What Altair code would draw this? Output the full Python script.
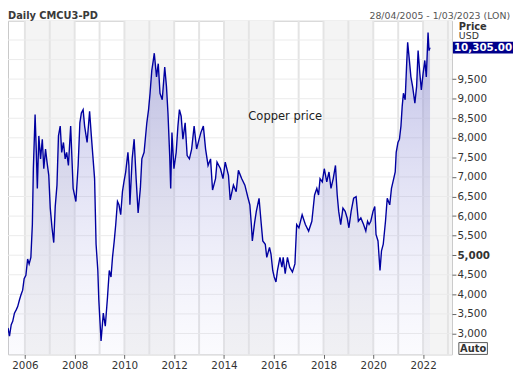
import altair as alt
import pandas as pd

# ---- data (decimal year, USD/t) ----
years_a = [2005.32, 2005.38, 2005.45, 2005.51, 2005.58, 2005.65, 2005.71, 2005.78, 2005.84, 2005.91,
           2005.97, 2006.04, 2006.11, 2006.17, 2006.24, 2006.30, 2006.34, 2006.41, 2006.46, 2006.50,
           2006.56, 2006.63, 2006.70, 2006.76, 2006.83, 2006.89, 2006.96, 2007.02, 2007.09, 2007.16,
           2007.22, 2007.29, 2007.35, 2007.42, 2007.48, 2007.55, 2007.62, 2007.68, 2007.75, 2007.84,
           2007.94, 2008.05, 2008.14, 2008.21, 2008.27, 2008.34, 2008.40, 2008.50, 2008.60, 2008.67,
           2008.73, 2008.80, 2008.86, 2008.93, 2008.97, 2009.02, 2009.06]
price_a = [3143, 2933, 3227, 3310, 3520, 3604, 3688, 3856, 3981, 4107,
           4401, 4485, 4904, 4778, 4946, 5784, 7210, 8594, 7629, 6707,
           8049, 7462, 7965, 7210, 7713, 7378, 7042, 6204, 5701, 5323,
           6246, 6791, 8049, 8300, 7629, 7881, 7462, 7629, 7294, 8300,
           6707, 6371, 7294, 8384, 8636, 8720, 8300, 7881, 8678, 8049,
           7545, 6958, 5281, 4610, 3856, 3269, 2807]

years_b = [2009.15, 2009.23, 2009.32, 2009.39, 2009.46, 2009.52, 2009.59, 2009.65, 2009.72, 2009.78,
           2009.85, 2009.92, 2009.98, 2010.05, 2010.14, 2010.18, 2010.22, 2010.31, 2010.39, 2010.47,
           2010.55, 2010.64, 2010.70, 2010.79, 2010.90, 2010.97, 2011.03, 2011.10, 2011.16, 2011.20,
           2011.29, 2011.36, 2011.43, 2011.52, 2011.62, 2011.69, 2011.75, 2011.82, 2011.86, 2011.91,
           2011.99, 2012.08, 2012.15, 2012.21, 2012.28, 2012.35, 2012.44, 2012.52, 2012.61, 2012.70,
           2012.80, 2012.90, 2013.00]
price_b = [3520, 3185, 3939, 4610, 4443, 4946, 5365, 5784, 6371, 6288,
           6036, 6623, 6874, 7126, 7629, 7294, 6288, 7462, 7965, 6958,
           6078, 6707, 7462, 7629, 8384, 8720, 9139, 9726, 9977, 10162,
           9558, 9894, 9139, 8971, 9810, 9307, 8636, 7545, 6707, 8133,
           7210, 7629, 8300, 8720, 8552, 7965, 8384, 7545, 7462, 7713,
           8300, 7713, 7965]

years_c = [2013.07, 2013.17, 2013.26, 2013.36, 2013.46, 2013.54, 2013.66, 2013.72, 2013.86, 2013.96,
           2014.05, 2014.18, 2014.25, 2014.38, 2014.49, 2014.58, 2014.71, 2014.84, 2014.97, 2015.04,
           2015.10, 2015.14, 2015.23, 2015.30, 2015.41, 2015.50, 2015.56, 2015.66, 2015.72, 2015.83,
           2015.89, 2015.96, 2016.02, 2016.09, 2016.15, 2016.25, 2016.33, 2016.38, 2016.46, 2016.55,
           2016.64, 2016.75, 2016.85, 2016.92, 2017.01, 2017.14, 2017.27, 2017.40, 2017.53, 2017.64]
price_c = [8133, 8300, 7713, 7294, 7462, 6665, 6958, 7378, 7210, 6958,
           7378, 7042, 6413, 6791, 6623, 7168, 6958, 6791, 6455, 6288,
           5784, 5365, 5826, 6120, 6455, 5784, 5365, 5281, 4946, 5197,
           5030, 4610, 4443, 4317, 4610, 4946, 4694, 4946, 4527, 4946,
           4694, 4568, 4778, 5784, 5701, 6036, 5784, 5617, 5868, 6539]

years_d = [2017.73, 2017.80, 2017.86, 2017.95, 2018.03, 2018.13, 2018.22, 2018.30, 2018.39, 2018.48,
           2018.55, 2018.61, 2018.69, 2018.78, 2018.87, 2018.95, 2019.02, 2019.11, 2019.21, 2019.31,
           2019.40, 2019.50, 2019.61, 2019.70, 2019.77, 2019.83, 2019.90, 2019.99, 2020.06, 2020.11,
           2020.19, 2020.27, 2020.33, 2020.40, 2020.49, 2020.56, 2020.66, 2020.73, 2020.82, 2020.88,
           2020.92, 2020.99, 2021.05, 2021.11, 2021.16, 2021.21, 2021.28, 2021.34, 2021.38, 2021.45,
           2021.51, 2021.58, 2021.67, 2021.74, 2021.80, 2021.87, 2021.93, 2022.00, 2022.07, 2022.13,
           2022.20, 2022.24, 2022.28]
price_d = [6707, 6539, 6958, 6875, 7210, 6875, 7126, 6707, 6958, 7294,
           6539, 6120, 5784, 6204, 6120, 5952, 5701, 6120, 6455, 6497,
           5868, 5952, 5784, 5617, 5868, 5784, 5868, 6120, 6246, 5533,
           5365, 4610, 5114, 5281, 5868, 6455, 6288, 6707, 6958, 7126,
           7629, 7881, 7965, 8300, 8803, 9139, 8971, 9894, 10439, 9977,
           9558, 9307, 8887, 9307, 10229, 9642, 9223, 9642, 9977, 9558,
           10690, 10229, 10305]

last_price = 10305
y_ticks = list(range(3000, 10000, 500))
grid_levels = list(range(3000, 11000, 500))
tick_years = list(range(2006, 2023, 2))
line_years = list(range(2006, 2024))
shaded_start = [2006, 2010, 2014, 2018, 2022]
shaded_end = [2008, 2012, 2016, 2020, 2023.16]
y_min, y_max = 2465, 10993


def to_date(y):
    yr = int(y)
    s = pd.Timestamp(year=yr, month=1, day=1)
    e = pd.Timestamp(year=yr + 1, month=1, day=1)
    return s + (e - s) * (y - yr)


all_years = years_a + years_b + years_c + years_d
all_price = price_a + price_b + price_c + price_d
df = pd.DataFrame({"date": [to_date(v) for v in all_years], "price": all_price})

bands = pd.DataFrame({"date": [to_date(v) for v in shaded_start],
                      "end": [to_date(v) for v in shaded_end]})
ylines = pd.DataFrame({"date": [to_date(v) for v in line_years]})
glines = pd.DataFrame({"price": grid_levels})

FONT = "DejaVu Sans"
xscale = alt.Scale(domain=[alt.DateTime(year=2005, month=4, date=28),
                           alt.DateTime(year=2023, month=3, date=1)])
yscale = alt.Scale(domain=[y_min, y_max], nice=False, zero=False)

x_axis = alt.Axis(values=[alt.DateTime(year=y, month=1, date=1) for y in tick_years],
                  format="%Y", tickSize=4, tickColor="#666", labelColor="#333",
                  labelFont=FONT, labelFontSize=10.5, labelPadding=2,
                  domain=False, grid=False, title=None)
y_axis = alt.Axis(orient="right", values=y_ticks, format=",.0f", formatType="number",
                  tickSize=4, tickColor="#666",
                  labelColor="#333", labelFont=FONT, labelFontSize=10.5, labelPadding=1,
                  labelFontWeight=alt.condition("datum.value == 5000", alt.value("bold"), alt.value("normal")),
                  domain=False, grid=False, title=None)

X = alt.X("date:T", scale=xscale, axis=x_axis)
Y = alt.Y("price:Q", scale=yscale, axis=y_axis)

band_layer = alt.Chart(bands).mark_rect(color="#f4f4f4").encode(x=X, x2="end:T")
year_layer = alt.Chart(ylines).mark_rule(color="#e4e4e4", strokeWidth=2).encode(x=X)
grid_layer = alt.Chart(glines).mark_rule(color="#ebebeb", strokeWidth=1).encode(y=Y)

gradient = alt.Gradient(
    gradient="linear",
    stops=[alt.GradientStop(color="rgba(110,110,200,0.45)", offset=0),
           alt.GradientStop(color="rgba(200,200,240,0.08)", offset=1)],
    x1=1, x2=1, y1=0, y2=1)

area_layer = alt.Chart(df).mark_area(fill=gradient).encode(x=X, y=Y, y2=alt.datum(y_min))
line_layer = alt.Chart(df).mark_line(color="#0000a0", strokeWidth=1.4).encode(x=X, y=Y)

label_df = pd.DataFrame({"date": [to_date(2016.46)], "price": [8552], "t": ["Copper price"]})
label_layer = alt.Chart(label_df).mark_text(font=FONT, fontSize=11.7, color="#222").encode(
    x=X, y=Y, text="t:N")

last_df = pd.DataFrame({"price": [last_price], "t": ["10,305.00"]})
box_layer = alt.Chart(last_df).mark_rect(color="#00008b", yOffset=-6, y2Offset=6).encode(
    x=alt.value(452), x2=alt.value(513), y=Y, y2="price:Q")
box_text = alt.Chart(last_df).mark_text(font=FONT, fontSize=10.5, fontWeight="bold", color="white",
                                         align="left", baseline="middle").encode(
    x=alt.value(453), y=Y, text="t:N")

head_df = pd.DataFrame({"t": ["Daily CMCU3-PD"]})
title_left = alt.Chart(head_df).mark_text(font=FONT, fontSize=10, fontWeight="bold", color="#3a3a3a",
                                           align="left", baseline="alphabetic").encode(
    x=alt.value(0), y=alt.value(-2), text="t:N")
range_df = pd.DataFrame({"t": ["28/04/2005 - 1/03/2023 (LON)"]})
title_right = alt.Chart(range_df).mark_text(font=FONT, fontSize=9.5, color="#555",
                                             align="right", baseline="alphabetic").encode(
    x=alt.value(510), y=alt.value(-2), text="t:N")
price_df = pd.DataFrame({"t": ["Price"]})
price_lbl = alt.Chart(price_df).mark_text(font=FONT, fontSize=10, fontWeight="bold", color="#333",
                                           align="left", baseline="middle").encode(
    x=alt.value(458), y=alt.value(6), text="t:N")
usd_df = pd.DataFrame({"t": ["USD"]})
usd_lbl = alt.Chart(usd_df).mark_text(font=FONT, fontSize=9.5, color="#333",
                                       align="left", baseline="middle").encode(
    x=alt.value(458), y=alt.value(16), text="t:N")
auto_df = pd.DataFrame({"t": ["Auto"]})
auto_box = alt.Chart(auto_df).mark_rect(fill="white", stroke="#555", strokeWidth=1).encode(
    x=alt.value(458), x2=alt.value(487), y=alt.value(327), y2=alt.value(339))
auto_txt = alt.Chart(auto_df).mark_text(font=FONT, fontSize=10, fontWeight="bold", color="#333",
                                         align="center", baseline="middle").encode(
    x=alt.value(472.5), y=alt.value(333.5), text="t:N")

chart = alt.layer(
    band_layer, year_layer, grid_layer, area_layer, line_layer, label_layer,
    usd_lbl, box_layer, box_text, title_left, title_right, price_lbl, auto_box, auto_txt
).properties(
    width=451, height=339,
    autosize=alt.AutoSizeParams(type="none"),
    padding={"left": 0, "top": 10, "right": 62, "bottom": 17},
    background="white"
).configure_view(stroke="#c8c8c8", strokeWidth=1)

chart.save("out.html", embed_options={"renderer": "svg", "actions": False})
